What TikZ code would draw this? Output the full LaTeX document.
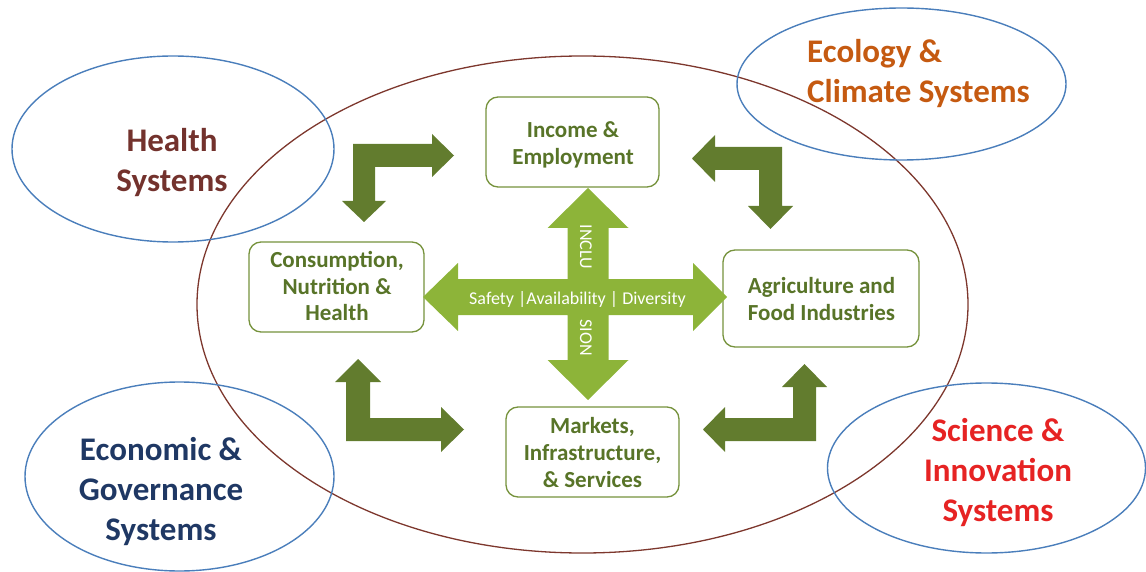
\documentclass[tikz,border=0pt]{standalone}
\usepackage{fontspec}
\setmainfont{Carlito}
\usetikzlibrary{shapes.geometric}
\definecolor{crossgreen}{RGB}{141,180,57}
\definecolor{bentgreen}{RGB}{98,124,46}
\definecolor{boxline}{RGB}{118,146,60}
\definecolor{boxtextc}{RGB}{88,116,40}
\definecolor{ellblue}{RGB}{74,126,187}
\definecolor{ellbrown}{RGB}{125,55,45}
\definecolor{healthc}{RGB}{115,50,45}
\definecolor{ecoc}{RGB}{197,90,17}
\definecolor{econc}{RGB}{31,56,100}
\definecolor{scic}{RGB}{230,35,35}
\begin{document}
\begin{tikzpicture}[x=1pt,y=-1pt,
  sysell/.style={draw=ellblue, line width=1.4pt, ellipse, inner sep=0pt, outer sep=0pt},
  bigell/.style={draw=ellbrown, line width=1.3pt, ellipse, inner sep=0pt, outer sep=0pt},
  stagebox/.style={draw=boxline, line width=1.3pt, rounded corners=12pt, inner sep=0pt, outer sep=0pt, fill=white},
  boxlabel/.style={anchor=base, inner sep=0pt, text=boxtextc, font=\fontsize{23}{27}\selectfont\bfseries},
  syslabel/.style={anchor=base, inner sep=0pt, font=\fontsize{33}{40}\selectfont\bfseries},
  crosslabel/.style={inner sep=0pt, text=white, font=\fontsize{18}{22}\selectfont},
  bentarrow/.style={fill=bentgreen, draw=none},
  crossarrow/.style={fill=crossgreen, draw=none}
]
\useasboundingbox (0,0) rectangle (1146,572);

% outer ellipse
\node[bigell, minimum width=771pt, minimum height=497pt] (food) at (582.5,304.5) {};

% system ellipses
\node[sysell, minimum width=322pt, minimum height=186pt] (health) at (173,149) {};
\node[sysell, minimum width=329pt, minimum height=152pt] (ecology) at (901.5,84) {};
\node[sysell, minimum width=309pt, minimum height=189pt] (econ) at (179.5,476.5) {};
\node[sysell, minimum width=318pt, minimum height=170pt] (science) at (986.5,468) {};

% stage boxes
\node[stagebox, minimum width=173pt, minimum height=90pt] (inc) at (572.5,142) {};
\node[stagebox, minimum width=175pt, minimum height=90pt] (cons) at (336.5,287) {};
\node[stagebox, minimum width=196pt, minimum height=97pt] (agri) at (821,298.5) {};
\node[stagebox, minimum width=173pt, minimum height=90pt] (mkt) at (592.5,452) {};

% central cross
\path[crossarrow] (588,188) -- (628.5,228) -- (608.5,228) -- (608.5,279) -- (693,279) -- (693,263)
  -- (727,297) -- (693,331) -- (693,315) -- (608.5,315) -- (608.5,360) -- (628.5,360)
  -- (588,400) -- (547.5,360) -- (567.5,360) -- (567.5,315) -- (458,315) -- (458,331)
  -- (423,297) -- (458,263) -- (458,279) -- (567.5,279) -- (567.5,228) -- (547.5,228) -- cycle;

% bent arrows
\path[bentarrow] (353,144) -- (432,144) -- (432,134) -- (454,155.5) -- (432,177) -- (432,167)
  -- (375,167) -- (375,201) -- (386,201) -- (364,222) -- (342,201) -- (353,201) -- cycle;
\path[bentarrow] (782,147) -- (715,147) -- (715,135) -- (692,158.5) -- (715,182) -- (715,170)
  -- (759,170) -- (759,206) -- (748,206) -- (770.5,229) -- (793,206) -- (782,206) -- cycle;
\path[bentarrow] (346,441) -- (346,382) -- (335,382) -- (358,359) -- (381,382) -- (370,382)
  -- (370,418) -- (441,418) -- (441,407) -- (464,429.5) -- (441,452) -- (441,441) -- cycle;
\path[bentarrow] (816,441) -- (816,387) -- (827,387) -- (804.5,364) -- (782,387) -- (793,387)
  -- (793,418) -- (725,418) -- (725,407) -- (703,429.5) -- (725,452) -- (725,441) -- cycle;

% cross texts
\node[crosslabel, anchor=base] (sad) at (577.5,304) {Safety |Availability | Diversity};
\node[crosslabel, rotate=-90] (incl) at (586,247) {INCLU};
\node[crosslabel, rotate=-90] (sion) at (586,337.5) {SION};

% box texts
\node[boxlabel] (tinc) at (573,138) {\begin{tabular}[t]{@{}c@{}}Income \&\\Employment\end{tabular}};
\node[boxlabel] (tcons) at (337,267) {\begin{tabular}[t]{@{}c@{}}Consumption,\\Nutrition \&\\Health\end{tabular}};
\node[boxlabel] (tagri) at (821.5,293) {\begin{tabular}[t]{@{}c@{}}Agriculture and\\Food Industries\end{tabular}};
\node[boxlabel] (tmkt) at (592.5,433) {\begin{tabular}[t]{@{}c@{}}Markets,\\Infrastructure,\\\& Services\end{tabular}};

% system texts
\node[syslabel, text=healthc] (thealth) at (172,152) {\begin{tabular}[t]{@{}c@{}}Health\\Systems\end{tabular}};
\node[syslabel, text=ecoc, anchor=base west] (teco) at (807,63) {\begin{tabular}[t]{@{}l@{}}Ecology \&\\Climate Systems\end{tabular}};
\node[syslabel, text=econc] (tecon) at (161,460) {\begin{tabular}[t]{@{}c@{}}Economic \&\\Governance\\Systems\end{tabular}};
\node[syslabel, text=scic] (tsci) at (998,441) {\begin{tabular}[t]{@{}c@{}}Science \&\\Innovation\\Systems\end{tabular}};
\end{tikzpicture}
\end{document}
